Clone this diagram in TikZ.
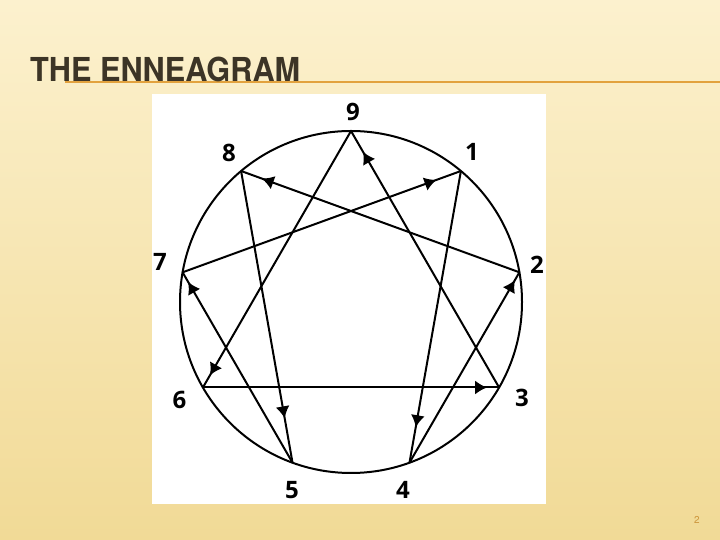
\documentclass[tikz,border=0pt]{standalone}
\usepackage{fontspec}
\setmainfont{TeX Gyre Heros}
\newfontfamily\numfont{Open Sans}
\usetikzlibrary{arrows.meta, decorations.markings}
\definecolor{slidetop}{RGB}{252,241,206}
\definecolor{slidebot}{RGB}{241,218,150}
\definecolor{titletext}{RGB}{60,52,38}
\definecolor{titlerule}{RGB}{226,162,62}
\definecolor{pagenum}{RGB}{205,150,60}
\tikzset{
  num/.style={font=\numfont\bfseries\fontsize{24}{24}\selectfont, inner sep=0pt},
  headat/.style={postaction={decorate}, decoration={markings,
    mark=at position -#1 with {\arrow{Latex[length=12pt,width=14pt]}}}}
}

\begin{document}
\begin{tikzpicture}[x=1pt,y=1pt]
  % Slide background
  \shade[top color=slidetop, bottom color=slidebot] (0,0) rectangle (720,540);
  \useasboundingbox (0,0) rectangle (720,540);
  % Title and rule
  \draw[titlerule, line width=2pt] (65,458) -- (720,458);
  \node[anchor=base west, inner sep=0pt, text=titletext] (title) at (30,458)
    {\scalebox{0.93}[1]{\fontsize{33}{33}\selectfont\bfseries THE ENNEAGRAM}};
  \node[text=pagenum, font=\fontsize{10}{10}\selectfont] (page) at (697,20) {2};
  % Picture frame
  \fill[white] (152,36) rectangle (546,446);
  % Circle
  \coordinate (c) at (351,238);
  \draw[line width=2pt] (c) circle[radius=171pt];
  % Points on the circle
  \foreach \n/\a in {9/90, 1/50, 2/10, 3/-30, 4/-70, 5/-110, 6/-150, 7/170, 8/130} {
    \path (c) ++(\a:171pt) coordinate (p\n);
  }
  % Labels
  \foreach \n/\x/\y in {9/353/428.5, 1/472/388, 2/537/275, 3/522/142,
                         4/403/50, 5/292/50, 6/179.5/140, 7/160/278.5, 8/229/387} {
    \node[num] (n\n) at (\x,\y) {\n};
  }
  % Lines with arrows
  \foreach \a/\b/\d in {9/6/14pt, 6/3/12pt, 3/9/24pt, 1/4/36pt, 4/2/9pt,
                        2/8/22pt, 8/5/45pt, 5/7/11pt, 7/1/26pt} {
    \draw[line width=2pt, headat=\d] (p\a) -- (p\b);
  }
\end{tikzpicture}
\end{document}
